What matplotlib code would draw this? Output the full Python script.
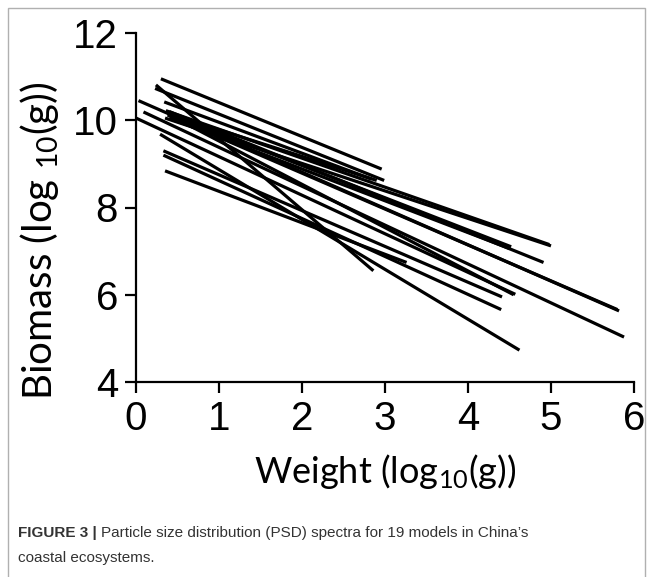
import matplotlib
matplotlib.use("Agg")
import matplotlib.pyplot as plt
from matplotlib.patches import Rectangle

# ---- data: each model's PSD line from (x_start, y_start) to (x_end, y_end) ----
x_start = [0.30, 0.23, 0.34, 0.24, 0.38, 0.40, 0.35, 0.40, 0.03, 0.09,
           0.00, 0.33, 0.33, 0.29, 0.35, 0.40, 0.42, 0.38, 0.36]
y_start = [10.95, 10.73, 10.42, 10.81, 10.16, 10.05, 10.05, 10.20, 10.45, 10.19,
           10.05, 9.30, 9.20, 9.68, 8.84, 10.15, 10.10, 10.12, 10.22]
x_end = [2.96, 2.99, 2.84, 2.86, 4.52, 4.50, 5.00, 4.91, 5.82, 5.88,
         4.57, 4.41, 4.40, 4.62, 3.26, 2.90, 4.55, 5.80, 4.98]
y_end = [8.88, 8.62, 8.65, 6.55, 7.10, 7.06, 7.12, 6.74, 5.63, 5.03,
         6.01, 5.95, 5.66, 4.73, 6.74, 8.62, 6.00, 5.66, 7.15]

x_ticks = [0, 1, 2, 3, 4, 5, 6]
y_ticks = [4, 6, 8, 10, 12]

plt.rcParams['mathtext.fontset'] = 'custom'
plt.rcParams['mathtext.rm'] = 'Lato'
plt.rcParams['mathtext.it'] = 'Lato:italic'

W, H = 652, 577
fig = plt.figure(figsize=(W / 100, H / 100), dpi=100)

# outer light-gray frame
fig.patches.append(Rectangle((8 / W, -0.01), (645 - 8) / W, (H - 8) / H + 0.01,
                             transform=fig.transFigure, fill=False,
                             edgecolor='#b0b0b0', linewidth=1.0))

ax = fig.add_axes([136 / W, (H - 382) / H, (634 - 136) / W, (382 - 33) / H])
for xs, ys, xe, ye in zip(x_start, y_start, x_end, y_end):
    ax.plot([xs, xe], [ys, ye], color='black', linewidth=2.3, solid_capstyle='butt')

ax.set_xlim(0, 6)
ax.set_ylim(4, 12)
ax.set_xticks(x_ticks)
ax.set_yticks(y_ticks)
for s in ['top', 'right']:
    ax.spines[s].set_visible(False)
for s in ['left', 'bottom']:
    ax.spines[s].set_linewidth(1.6)
ax.tick_params(direction='out', length=8, width=1.6, labelsize=29, pad=5)
for lab in ax.get_xticklabels() + ax.get_yticklabels():
    lab.set_family('Liberation Sans')

ax.set_xlabel(r'Weight (log$_{\mathrm{10}}$(g))', fontsize=26, family='Lato', labelpad=10)
ax.set_ylabel(r'Biomass (log $_{\mathrm{10}}$(g))', fontsize=29, family='Lato')
ax.yaxis.set_label_coords(-0.150, 0.405)

cap_font = ['Liberation Sans Narrow', 'Liberation Sans']
t1 = fig.text(18 / W, 1 - 533 / H, 'FIGURE 3 |', fontsize=11, weight='bold',
              family=cap_font, color='#333333', va='center')
fig.canvas.draw()
bb = t1.get_window_extent()
fig.text(bb.x1 / W + 4 / W, 1 - 533 / H,
         "Particle size distribution (PSD) spectra for 19 models in China\u2019s",
         fontsize=11, family=cap_font, color='#333333', va='center')
fig.text(18 / W, 1 - 558 / H, 'coastal ecosystems.', fontsize=11,
         family=cap_font, color='#333333', va='center')

fig.savefig('out.png', dpi=100)
